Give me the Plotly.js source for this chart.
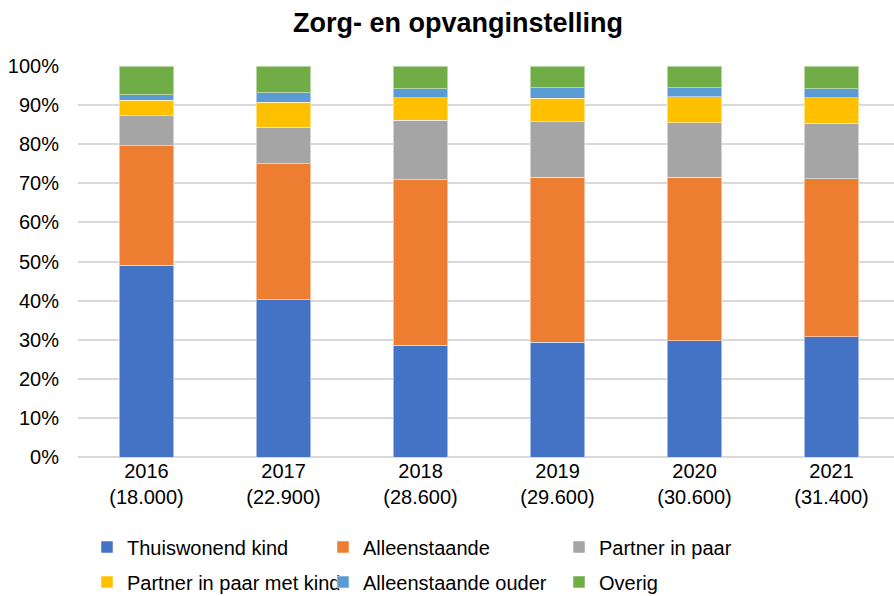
<!DOCTYPE html>
<html>
<head>
<meta charset="utf-8">
<script src="https://cdn.plot.ly/plotly-3.0.1.min.js"></script>
<style>html,body{margin:0;padding:0;background:#fff;}#chart{width:894px;height:596px;}</style>
</head>
<body>
<div id="chart"></div>
<script>
const categories = ["2016<br>(18.000)", "2017<br>(22.900)", "2018<br>(28.600)", "2019<br>(29.600)", "2020<br>(30.600)", "2021<br>(31.400)"];
const thuiswonendKind = [49.1, 40.2, 28.6, 29.3, 29.7, 30.7];
const alleenstaande = [30.5, 34.8, 42.3, 42.3, 41.9, 40.5];
const partnerInPaar = [7.7, 9.4, 15.2, 14.1, 13.9, 14.1];
const partnerMetKind = [4.0, 6.3, 5.8, 6.0, 6.6, 6.6];
const alleenstaandeOuder = [1.4, 2.4, 2.3, 2.7, 2.4, 2.3];
const overig = [7.3, 6.9, 5.8, 5.6, 5.5, 5.8];
const yTicks = [0, 10, 20, 30, 40, 50, 60, 70, 80, 90, 100];
const yTickLabels = ["0%", "10%", "20%", "30%", "40%", "50%", "60%", "70%", "80%", "90%", "100%"];

const seriesNames = ["Thuiswonend kind", "Alleenstaande", "Partner in paar", "Partner in paar met kind", "Alleenstaande ouder", "Overig"];
const seriesValues = [thuiswonendKind, alleenstaande, partnerInPaar, partnerMetKind, alleenstaandeOuder, overig];
const seriesColors = ["#4472C4", "#ED7D31", "#A5A5A5", "#FFC000", "#5B9BD5", "#70AD47"];
const seriesLegend = ["legend", "legend", "legend", "legend2", "legend2", "legend2"];

const font = "Liberation Sans, Arial, sans-serif";

const traces = seriesNames.map((n, i) => ({
  type: "bar",
  name: n,
  x: categories,
  y: seriesValues[i],
  legend: seriesLegend[i],
  marker: {color: seriesColors[i], line: {color: "rgba(255,255,255,0.5)", width: 1}},
  hoverinfo: "name+y"
}));

const legendCommon = {
  orientation: "h",
  xref: "container",
  yref: "container",
  x: 87 / 894,
  xanchor: "left",
  yanchor: "middle",
  entrywidth: 191,
  entrywidthmode: "pixels",
  itemwidth: 30,
  traceorder: "normal",
  font: {family: font, size: 20, color: "#000"},
  bgcolor: "rgba(0,0,0,0)"
};

const layout = {
  width: 894,
  height: 596,
  margin: {l: 78, r: 0, t: 66, b: 139},
  paper_bgcolor: "#fff",
  plot_bgcolor: "#fff",
  barmode: "stack",
  bargap: 0.6,
  showlegend: true,
  font: {family: font, size: 20, color: "#000"},
  title: {
    text: "<b>Zorg- en opvanginstelling</b>",
    font: {family: font, size: 27, color: "#000"},
    xref: "container", yref: "container",
    x: 458 / 894, xanchor: "center",
    y: 1 - 23 / 596, yanchor: "middle"
  },
  xaxis: {
    type: "category",
    range: [-0.5, 5.456],
    showgrid: false,
    showline: false,
    zeroline: false,
    ticks: "",
    tickfont: {family: font, size: 20, color: "#000"},
    fixedrange: true
  },
  yaxis: {
    range: [0, 100],
    tickmode: "array",
    tickvals: yTicks,
    ticktext: yTickLabels,
    showgrid: true,
    gridcolor: "#d9d9d9",
    gridwidth: 2,
    zeroline: true,
    zerolinecolor: "#d9d9d9",
    zerolinewidth: 2,
    showline: false,
    ticks: "",
    ticklabelstandoff: 18,
    tickfont: {family: font, size: 20, color: "#000"},
    fixedrange: true
  },
  legend: Object.assign({}, legendCommon, {y: 1 - 547 / 596}),
  legend2: Object.assign({}, legendCommon, {y: 1 - 582 / 596})
};

Plotly.newPlot("chart", traces, layout, {displayModeBar: false, staticPlot: true});
</script>
</body>
</html>
